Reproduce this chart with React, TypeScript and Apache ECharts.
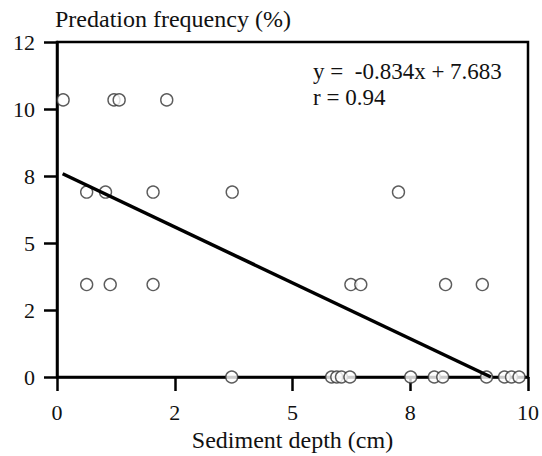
import React, { useEffect, useRef } from "react";
import * as echarts from "echarts";

// Observed predation frequencies (%) by sediment depth (cm)
const level10 = 10.34;
const depthsAt10 = [0.13, 1.21, 1.32, 2.33];
const level7 = 6.9;
const depthsAt7 = [0.63, 1.03, 2.04, 3.72, 7.25];
const level3 = 3.45;
const depthsAt3 = [0.63, 1.13, 2.04, 6.24, 6.45, 8.25, 9.03];
const level0 = 0;
const depthsAt0 = [3.71, 5.83, 5.94, 6.04, 6.22, 7.51, 8.01, 8.19, 9.12, 9.5, 9.65, 9.81];

// Regression y = -0.834x + 7.683
const slope = -0.834;
const intercept = 7.683;
const lineStartX = 0.12;

const xTickLabels = ["0", "2", "5", "8", "10"];
const yTickLabels = ["0", "2", "5", "8", "10", "12"];
const equationText = "y =  -0.834x + 7.683";
const rText = "r = 0.94";

const FONT = "Liberation Serif";

export default function App() {
  const ref = useRef<HTMLDivElement>(null);
  useEffect(() => {
    if (!ref.current) return;
    const chart = echarts.init(ref.current, null, { renderer: "svg" });
    const points: number[][] = [];
    const groups: [number, number[]][] = [
      [level10, depthsAt10],
      [level7, depthsAt7],
      [level3, depthsAt3],
      [level0, depthsAt0],
    ];
    groups.forEach(([lv, ds]) => ds.forEach((d) => points.push([d, lv])));
    const lineEndX = -intercept / slope;
    const lineData = [
      [lineStartX, slope * lineStartX + intercept],
      [lineEndX, slope * lineEndX + intercept],
    ];
    chart.setOption({
      animation: false,
      backgroundColor: "#fff",
      grid: {
        left: 57,
        right: 14,
        top: 42,
        bottom: 79,
        show: true,
        borderColor: "#000",
        borderWidth: 2.5,
        outerBoundsMode: "none",
      },
      xAxis: {
        type: "value",
        min: 0,
        max: 10,
        interval: 2.5,
        name: "Sediment depth (cm)",
        nameLocation: "middle",
        nameGap: 46,
        nameTextStyle: { fontFamily: FONT, fontSize: 24, color: "#111" },
        axisLine: { show: true, lineStyle: { color: "#000", width: 2.5 } },
        axisTick: { show: true, inside: false, length: 14, lineStyle: { color: "#000", width: 2.5 } },
        axisLabel: {
          margin: 24,
          fontFamily: FONT,
          fontSize: 22,
          color: "#111",
          formatter: (_v: number, i: number) => xTickLabels[i] ?? "",
        },
        splitLine: { show: false },
      },
      yAxis: {
        type: "value",
        min: 0,
        max: 12.5,
        interval: 2.5,
        name: "Predation frequency (%)",
        nameLocation: "end",
        nameGap: 23,
        nameTextStyle: {
          fontFamily: FONT,
          fontSize: 24,
          color: "#111",
          align: "left",
          verticalAlign: "middle",
          padding: [0, 0, 0, -2],
        },
        axisLine: { show: true, lineStyle: { color: "#000", width: 2.5 } },
        axisTick: { show: true, inside: false, length: 13, lineStyle: { color: "#000", width: 2.5 } },
        axisLabel: {
          margin: 22,
          fontFamily: FONT,
          fontSize: 22,
          color: "#111",
          formatter: (_v: number, i: number) => yTickLabels[i] ?? "",
        },
        splitLine: { show: false },
      },
      graphic: [
        {
          type: "text",
          left: 313,
          top: 58,
          style: {
            text: equationText + "\n" + rText,
            font: `23px "${FONT}"`,
            lineHeight: 26,
            fill: "#111",
          },
        },
      ],
      series: [
        {
          type: "scatter",
          data: points,
          symbol: "circle",
          symbolSize: 12,
          itemStyle: { color: "#fff", borderColor: "#333", borderWidth: 1.4 },
          z: 3,
        },
        {
          type: "line",
          data: lineData,
          showSymbol: false,
          symbol: "none",
          lineStyle: { color: "#000", width: 3.5 },
          z: 4,
        },
      ],
    });
    return () => chart.dispose();
  }, []);
  return (
    <div
      ref={ref}
      style={{ position: "fixed", left: 0, top: 0, width: 542, height: 456 }}
    />
  );
}
